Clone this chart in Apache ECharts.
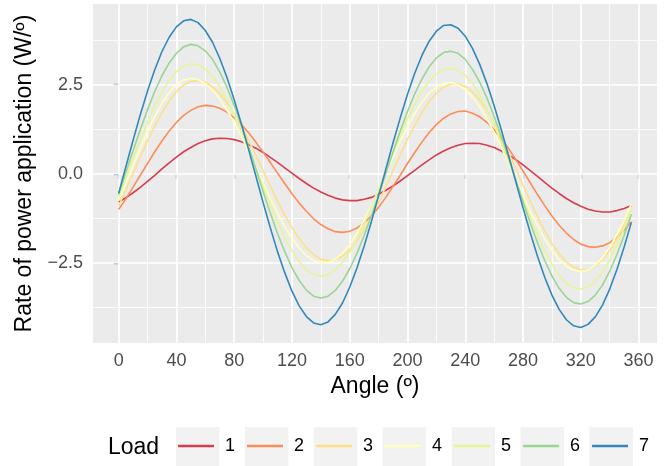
<!DOCTYPE html>
<html>
<head>
<meta charset="utf-8">
<script src="https://cdn.jsdelivr.net/npm/echarts@6/dist/echarts.min.js"></script>
<style>
  html, body { margin: 0; padding: 0; background: #ffffff; }
  #chart { width: 670px; height: 466px; }
</style>
</head>
<body>
<div id="chart"></div>
<script>
// Crank angle (degrees), sampled every 5 degrees
const angle = [0,5,10,15,20,25,30,35,40,45,50,55,60,65,70,75,80,85,90,95,100,105,110,115,120,125,130,135,140,145,150,155,160,165,170,175,180,185,190,195,200,205,210,215,220,225,230,235,240,245,250,255,260,265,270,275,280,285,290,295,300,305,310,315,320,325,330,335,340,345,350,355];

// Rate of power application (W/º) for each load level
const load1 = [-0.79,-0.67,-0.53,-0.38,-0.21,-0.04,0.14,0.31,0.47,0.62,0.74,0.85,0.93,0.98,1.00,0.99,0.96,0.90,0.82,0.72,0.60,0.46,0.32,0.17,0.02,-0.13,-0.27,-0.40,-0.51,-0.60,-0.68,-0.73,-0.75,-0.75,-0.71,-0.66,-0.57,-0.46,-0.34,-0.20,-0.05,0.10,0.25,0.39,0.53,0.64,0.73,0.80,0.85,0.86,0.85,0.80,0.74,0.64,0.53,0.40,0.25,0.09,-0.07,-0.24,-0.40,-0.55,-0.69,-0.81,-0.91,-0.99,-1.04,-1.07,-1.07,-1.03,-0.97,-0.89];
const load2 = [-1.00,-0.70,-0.37,-0.04,0.29,0.62,0.92,1.20,1.44,1.64,1.78,1.88,1.92,1.90,1.84,1.73,1.57,1.38,1.15,0.89,0.61,0.32,0.02,-0.27,-0.56,-0.82,-1.05,-1.26,-1.42,-1.54,-1.62,-1.64,-1.61,-1.52,-1.37,-1.18,-0.94,-0.66,-0.35,-0.04,0.29,0.60,0.89,1.16,1.38,1.56,1.68,1.75,1.76,1.70,1.60,1.44,1.24,0.99,0.71,0.40,0.08,-0.25,-0.58,-0.89,-1.18,-1.44,-1.66,-1.84,-1.97,-2.04,-2.06,-2.02,-1.93,-1.78,-1.58,-1.34];
const load3 = [-0.90,-0.45,0.01,0.47,0.92,1.34,1.72,2.04,2.30,2.49,2.59,2.62,2.57,2.44,2.25,2.00,1.69,1.33,0.94,0.52,0.09,-0.34,-0.76,-1.15,-1.51,-1.82,-2.07,-2.26,-2.39,-2.44,-2.41,-2.31,-2.13,-1.88,-1.56,-1.20,-0.79,-0.36,0.09,0.54,0.97,1.36,1.72,2.02,2.26,2.43,2.52,2.52,2.45,2.30,2.07,1.78,1.43,1.03,0.60,0.15,-0.32,-0.77,-1.20,-1.60,-1.95,-2.24,-2.47,-2.62,-2.69,-2.68,-2.59,-2.41,-2.15,-1.82,-1.43,-1.00];
const load4 = [-0.74,-0.26,0.24,0.72,1.19,1.61,1.98,2.28,2.50,2.63,2.68,2.64,2.53,2.35,2.10,1.79,1.44,1.04,0.62,0.18,-0.26,-0.69,-1.10,-1.48,-1.80,-2.08,-2.29,-2.43,-2.49,-2.49,-2.39,-2.22,-1.98,-1.67,-1.30,-0.89,-0.45,0.01,0.46,0.91,1.32,1.69,2.01,2.26,2.44,2.54,2.56,2.49,2.36,2.15,1.87,1.54,1.16,0.74,0.30,-0.16,-0.61,-1.05,-1.45,-1.82,-2.14,-2.40,-2.59,-2.70,-2.74,-2.70,-2.56,-2.35,-2.06,-1.70,-1.29,-0.84];
const load5 = [-0.65,-0.12,0.42,0.95,1.44,1.90,2.29,2.62,2.86,3.02,3.09,3.06,2.94,2.73,2.45,2.08,1.66,1.19,0.69,0.16,-0.36,-0.87,-1.35,-1.78,-2.16,-2.46,-2.69,-2.82,-2.87,-2.83,-2.69,-2.48,-2.18,-1.82,-1.40,-0.93,-0.43,0.08,0.59,1.08,1.54,1.96,2.31,2.60,2.81,2.93,2.97,2.91,2.76,2.53,2.21,1.82,1.37,0.88,0.36,-0.18,-0.72,-1.24,-1.73,-2.16,-2.54,-2.84,-3.06,-3.19,-3.23,-3.17,-3.01,-2.75,-2.41,-1.99,-1.52,-0.99];
const load6 = [-0.57,0.04,0.65,1.24,1.80,2.31,2.75,3.11,3.38,3.56,3.63,3.59,3.45,3.21,2.86,2.43,1.92,1.36,0.76,0.14,-0.49,-1.10,-1.67,-2.18,-2.63,-2.99,-3.26,-3.43,-3.48,-3.43,-3.27,-3.01,-2.66,-2.23,-1.73,-1.18,-0.59,0.01,0.61,1.20,1.75,2.24,2.66,3.00,3.25,3.40,3.44,3.38,3.21,2.93,2.57,2.13,1.61,1.05,0.45,-0.17,-0.78,-1.38,-1.93,-2.43,-2.86,-3.21,-3.46,-3.61,-3.65,-3.58,-3.40,-3.12,-2.73,-2.26,-1.73,-1.13];
const load7 = [-0.55,0.20,0.94,1.66,2.32,2.92,3.43,3.83,4.12,4.29,4.33,4.24,4.02,3.69,3.24,2.70,2.08,1.40,0.68,-0.06,-0.80,-1.51,-2.18,-2.77,-3.29,-3.70,-4.00,-4.18,-4.23,-4.15,-3.94,-3.62,-3.18,-2.64,-2.02,-1.34,-0.61,0.13,0.87,1.57,2.23,2.82,3.32,3.72,4.00,4.16,4.18,4.08,3.86,3.52,3.07,2.53,1.91,1.23,0.51,-0.22,-0.95,-1.65,-2.31,-2.90,-3.40,-3.80,-4.09,-4.26,-4.31,-4.22,-4.01,-3.68,-3.23,-2.68,-2.05,-1.36];

const loadNames = ['1', '2', '3', '4', '5', '6', '7'];
const loadColors = ['#D53E4F', '#FC8D59', '#FEE08B', '#FFFFBF', '#E6F598', '#99D594', '#3288BD'];

// Axis breaks
const xTicks = [0, 40, 80, 120, 160, 200, 240, 280, 320, 360];
const xMinor = [20, 60, 100, 140, 180, 220, 260, 300, 340];
const yTicks = [-2.5, 0, 2.5];
const yMinor = [-3.75, -1.25, 1.25, 3.75];

const FONT = '"Liberation Sans", Arial, Helvetica, sans-serif';
const loadSeries = [load1, load2, load3, load4, load5, load6, load7];

const chart = echarts.init(document.getElementById('chart'), null, { renderer: 'canvas' });

// Panel grid lines drawn in data coordinates, kept underneath the curves
const gridLines = []
  .concat(xMinor.map(v => ({ xAxis: v, lineStyle: { width: 0.8 } })))
  .concat(yMinor.map(v => ({ yAxis: v, lineStyle: { width: 0.8 } })))
  .concat(xTicks.map(v => ({ xAxis: v, lineStyle: { width: 1.7 } })))
  .concat(yTicks.map(v => ({ yAxis: v, lineStyle: { width: 1.7 } })));

const series = [{
  type: 'line',
  name: '__grid',
  data: [],
  z: 1,
  silent: true,
  markLine: {
    z: 1,
    silent: true,
    symbol: ['none', 'none'],
    label: { show: false },
    animation: false,
    lineStyle: { color: '#ffffff', type: 'solid' },
    emphasis: { disabled: true },
    data: gridLines
  }
}];

loadSeries.forEach((vals, i) => {
  series.push({
    type: 'line',
    name: loadNames[i],
    data: angle.map((a, k) => [a, vals[k]]),
    showSymbol: false,
    symbol: 'none',
    smooth: false,
    z: 6,
    lineStyle: { color: loadColors[i], width: 1.6 },
    itemStyle: { color: loadColors[i] },
    emphasis: { disabled: true }
  });
});

// Legend key backgrounds and title
const keyStep = 68.9;
const graphics = loadNames.map((n, i) => ({
  type: 'rect',
  shape: { x: 176 + i * keyStep, y: 427, width: 43.5, height: 39 },
  style: { fill: '#F2F2F2' },
  z: 0,
  silent: true
}));
graphics.push({
  type: 'text',
  x: 108, y: 448,
  style: { text: 'Load', fontSize: 23, fontFamily: FONT, fill: '#000000', verticalAlign: 'middle' },
  silent: true
});

chart.setOption({
  animation: false,
  backgroundColor: '#ffffff',
  grid: {
    left: 93, right: 13, top: 4, bottom: 123,
    show: true, backgroundColor: '#EBEBEB', borderWidth: 0
  },
  xAxis: {
    type: 'value',
    min: -17.75, max: 372.75,
    name: 'Angle (º)',
    nameLocation: 'middle',
    nameGap: 32,
    nameTextStyle: { fontSize: 23, color: '#000000', fontFamily: FONT },
    axisLine: { show: false },
    axisTick: { show: true, customValues: xTicks, length: 5, lineStyle: { color: '#333333', width: 1.2 } },
    axisLabel: { customValues: xTicks, fontSize: 18, color: '#4D4D4D', fontFamily: FONT, margin: 9 },
    splitLine: { show: false },
    minorSplitLine: { show: false }
  },
  yAxis: {
    type: 'value',
    min: -4.742, max: 4.762,
    name: 'Rate of power application (W/º)',
    nameLocation: 'middle',
    nameRotate: 90,
    nameGap: 46,
    nameTextStyle: { fontSize: 23, color: '#000000', fontFamily: FONT },
    axisLine: { show: false },
    axisTick: { show: true, customValues: yTicks, length: 5, lineStyle: { color: '#333333', width: 1.2 } },
    axisLabel: {
      customValues: yTicks, fontSize: 18, color: '#4D4D4D', fontFamily: FONT, margin: 10,
      formatter: v => (v < 0 ? '\u2212' : '') + Math.abs(v).toFixed(1)
    },
    splitLine: { show: false }
  },
  legend: {
    data: loadNames,
    orient: 'horizontal',
    left: 178, top: 437,
    padding: 0,
    itemWidth: 36, itemHeight: 2.4,
    itemGap: 12,
    icon: 'rect',
    selectedMode: false,
    textStyle: { fontSize: 18, color: '#000000', fontFamily: FONT, padding: [0, 0, 0, 6] }
  },
  graphic: graphics,
  series: series
});
</script>
</body>
</html>
